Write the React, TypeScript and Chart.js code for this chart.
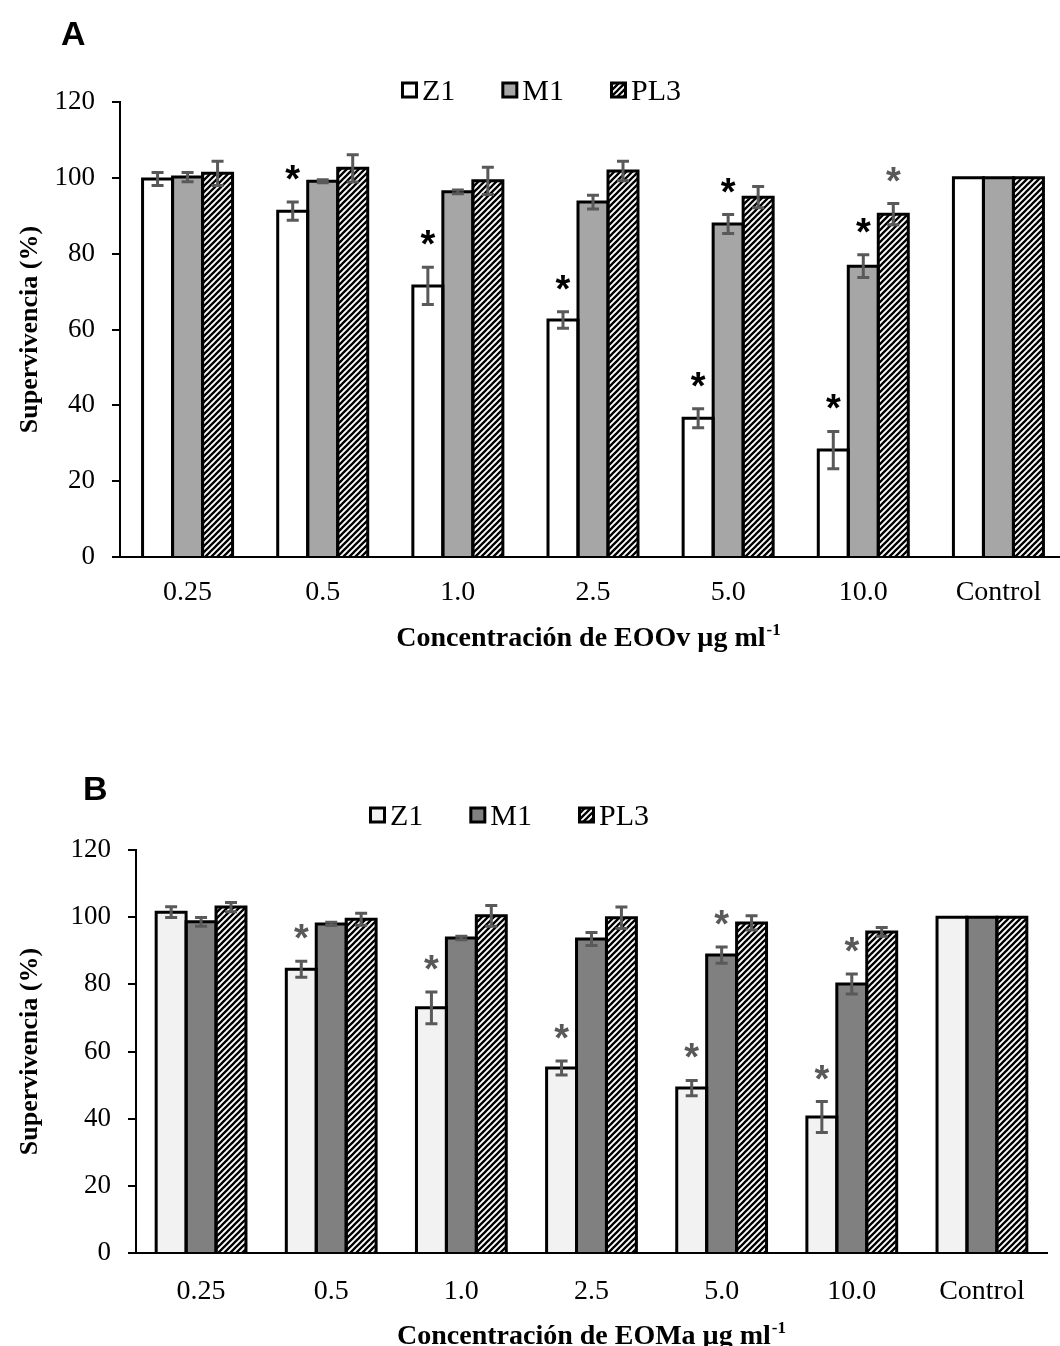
import { useEffect, useRef } from 'react';
import { Chart, registerables } from 'chart.js';
Chart.register(...registerables);

const categories = ['0.25', '0.5', '1.0', '2.5', '5.0', '10.0', 'Control'];
const seriesNames = ['Z1', 'M1', 'PL3'];
const yMin = 0;
const yMax = 120;
const yStep = 20;

// Panel A (EOOv)
const aZ1 = [99.7, 91.2, 71.5, 62.5, 36.6, 28.2, 100];
const aM1 = [100.2, 99.1, 96.3, 93.6, 87.8, 76.7, 100];
const aPL3 = [101.2, 102.5, 99.2, 101.8, 94.9, 90.4, 100];
const aZ1Err = [1.7, 2.4, 4.9, 2.2, 2.5, 4.9, 0];
const aM1Err = [1.2, 0.4, 0.5, 1.8, 2.5, 3.0, 0];
const aPL3Err = [3.2, 3.6, 3.6, 2.6, 2.8, 2.8, 0];
const aZ1Sig = [false, true, true, true, true, true, false];
const aM1Sig = [false, false, false, false, true, true, false];
const aPL3Sig = [false, false, false, false, false, true, false];

// Panel B (EOMa)
const bZ1 = [101.5, 84.5, 73.0, 55.1, 49.1, 40.5, 100];
const bM1 = [98.6, 98.0, 93.8, 93.5, 88.7, 80.1, 100];
const bPL3 = [103.0, 99.4, 100.4, 99.8, 98.3, 95.6, 100];
const bZ1Err = [1.6, 2.4, 4.7, 2.1, 2.3, 4.6, 0];
const bM1Err = [1.3, 0.5, 0.5, 1.9, 2.4, 3.0, 0];
const bPL3Err = [1.4, 1.8, 3.1, 3.2, 2.1, 1.3, 0];
const bZ1Sig = [false, true, true, true, true, true, false];
const bM1Sig = [false, false, false, false, true, true, false];
const bPL3Sig = [false, false, false, false, false, false, false];

const SERIF = '"Liberation Serif", "Times New Roman", serif';
const SANS = '"Liberation Sans", Arial, sans-serif';

function makeHatch(ctxRef: CanvasRenderingContext2D): CanvasPattern | string {
  const c = document.createElement('canvas');
  c.width = 6;
  c.height = 6;
  const g = c.getContext('2d');
  if (!g) return '#000';
  g.fillStyle = '#fff';
  g.fillRect(0, 0, 6, 6);
  g.strokeStyle = '#000';
  g.lineWidth = 2.3;
  g.beginPath();
  g.moveTo(-3, 3); g.lineTo(3, -3);
  g.moveTo(0, 6); g.lineTo(6, 0);
  g.moveTo(3, 9); g.lineTo(9, 3);
  g.stroke();
  return ctxRef.createPattern(c, 'repeat') || '#000';
}

interface PanelCfg {
  letter: string;
  xTitle: string;
  values: number[][];
  errors: number[][];
  sig: boolean[][];
  fills: string[];
  sigColors: string[];
  width: number;
  height: number;
  top: number;
  yAxisWidth: number;
  padTop: number;
  padRight: number;
  xAxisHeight: number;
  catPct: number;
  letterX: number;
  letterY: number;
  legendCx: number;
  legendY: number;
  xTitleCx: number;
  xTitleY: number;
  yTitleX: number;
  xTickPad: number;
}

const panelA: PanelCfg = {
  letter: 'A',
  xTitle: 'Concentración de EOOv µg ml',
  values: [aZ1, aM1, aPL3],
  errors: [aZ1Err, aM1Err, aPL3Err],
  sig: [aZ1Sig, aM1Sig, aPL3Sig],
  fills: ['#ffffff', '#a6a6a6', 'hatch'],
  sigColors: ['#000000', '#000000', '#595959'],
  width: 1070,
  height: 673,
  top: 0,
  yAxisWidth: 120,
  padTop: 102,
  padRight: 4,
  xAxisHeight: 116,
  catPct: 0.666,
  letterX: 61,
  letterY: 45,
  legendCx: 541,
  legendY: 90,
  xTitleCx: 588,
  xTitleY: 646,
  yTitleX: 30,
  xTickPad: 19,
};

const panelB: PanelCfg = {
  letter: 'B',
  xTitle: 'Concentración de EOMa µg ml',
  values: [bZ1, bM1, bPL3],
  errors: [bZ1Err, bM1Err, bPL3Err],
  sig: [bZ1Sig, bM1Sig, bPL3Sig],
  fills: ['#f2f2f2', '#808080', 'hatch'],
  sigColors: ['#595959', '#595959', '#595959'],
  width: 1060,
  height: 673,
  top: 673,
  yAxisWidth: 136,
  padTop: 177,
  padRight: 13,
  xAxisHeight: 93,
  catPct: 0.69,
  letterX: 83,
  letterY: 127,
  legendCx: 509,
  legendY: 815 - 673,
  xTitleCx: 591,
  xTitleY: 671,
  yTitleX: 30,
  xTickPad: 22,
};

function Panel({ p }: { p: PanelCfg }) {
  const ref = useRef<HTMLCanvasElement>(null);
  useEffect(() => {
    const canvas = ref.current;
    if (!canvas) return;
    const ctx0 = canvas.getContext('2d');
    if (!ctx0) return;
    const hatch = makeHatch(ctx0);
    const fills: any[] = p.fills.map((f) => (f === 'hatch' ? hatch : f));

    const deco = {
      id: 'deco',
      afterDatasetsDraw(chart: any) {
        const ctx: CanvasRenderingContext2D = chart.ctx;
        const ys = chart.scales.y;
        ctx.save();
        // bar outlines (centered strokes)
        chart.data.datasets.forEach((_ds: any, di: number) => {
          const meta = chart.getDatasetMeta(di);
          meta.data.forEach((el: any) => {
            const l = el.x - el.width / 2;
            const r = el.x + el.width / 2;
            ctx.beginPath();
            ctx.moveTo(l, el.base);
            ctx.lineTo(l, el.y);
            ctx.lineTo(r, el.y);
            ctx.lineTo(r, el.base);
            ctx.lineWidth = 3;
            ctx.lineJoin = 'miter';
            ctx.strokeStyle = '#000';
            ctx.stroke();
          });
        });
        // error bars
        chart.data.datasets.forEach((_ds: any, di: number) => {
          const meta = chart.getDatasetMeta(di);
          meta.data.forEach((el: any, i: number) => {
            const e = p.errors[di][i];
            if (!e) return;
            const v = p.values[di][i];
            const yT = ys.getPixelForValue(v + e);
            const yB = ys.getPixelForValue(v - e);
            ctx.strokeStyle = '#595959';
            ctx.lineWidth = 3;
            ctx.lineCap = 'butt';
            ctx.beginPath();
            ctx.moveTo(el.x, yT);
            ctx.lineTo(el.x, yB);
            ctx.moveTo(el.x - 6, yT);
            ctx.lineTo(el.x + 6, yT);
            ctx.moveTo(el.x - 6, yB);
            ctx.lineTo(el.x + 6, yB);
            ctx.stroke();
          });
        });
        // significance asterisks
        ctx.font = 'bold 38px ' + SANS;
        ctx.textAlign = 'center';
        ctx.textBaseline = 'alphabetic';
        chart.data.datasets.forEach((_ds: any, di: number) => {
          const meta = chart.getDatasetMeta(di);
          meta.data.forEach((el: any, i: number) => {
            if (!p.sig[di][i]) return;
            const v = p.values[di][i] + p.errors[di][i];
            const yT = ys.getPixelForValue(v);
            ctx.fillStyle = p.sigColors[di];
            ctx.fillText('*', el.x, yT - 10);
          });
        });
        ctx.restore();
      },
      afterDraw(chart: any) {
        const ctx: CanvasRenderingContext2D = chart.ctx;
        const area = chart.chartArea;
        ctx.save();
        // panel letter
        ctx.fillStyle = '#000';
        ctx.font = 'bold 34px ' + SANS;
        ctx.textAlign = 'left';
        ctx.textBaseline = 'alphabetic';
        ctx.fillText(p.letter, p.letterX, p.letterY);

        // legend
        ctx.font = '30px ' + SERIF;
        const box = 14;
        const gap = 4;
        const spacing = 46;
        const widths = seriesNames.map((n) => box + 3 + gap + ctx.measureText(n).width);
        const total = widths.reduce((a, b) => a + b, 0) + spacing * (seriesNames.length - 1);
        let x = p.legendCx - total / 2;
        seriesNames.forEach((n, i) => {
          const bx = x + 1.5;
          const by = p.legendY - box / 2;
          ctx.fillStyle = fills[i];
          ctx.fillRect(bx, by, box, box);
          ctx.strokeStyle = '#000';
          ctx.lineWidth = 3;
          ctx.strokeRect(bx, by, box, box);
          ctx.fillStyle = '#000';
          ctx.textAlign = 'left';
          ctx.fillText(n, x + box + 3 + gap, p.legendY + 10);
          x += widths[i] + spacing;
        });

        // y-axis title
        ctx.save();
        ctx.translate(p.yTitleX, (area.top + area.bottom) / 2);
        ctx.rotate(-Math.PI / 2);
        ctx.font = 'bold 26px ' + SERIF;
        ctx.textAlign = 'center';
        ctx.textBaseline = 'middle';
        ctx.fillStyle = '#000';
        ctx.fillText('Supervivencia (%)', 0, 0);
        ctx.restore();

        // x-axis title with superscript
        ctx.font = 'bold 28px ' + SERIF;
        const mainW = ctx.measureText(p.xTitle).width;
        ctx.font = 'bold 17px ' + SERIF;
        const supW = ctx.measureText('-1').width;
        const sx = p.xTitleCx - (mainW + supW) / 2;
        ctx.textAlign = 'left';
        ctx.textBaseline = 'alphabetic';
        ctx.fillStyle = '#000';
        ctx.font = 'bold 28px ' + SERIF;
        ctx.fillText(p.xTitle, sx, p.xTitleY);
        ctx.font = 'bold 17px ' + SERIF;
        ctx.fillText('-1', sx + mainW + 1, p.xTitleY - 11);
        ctx.restore();
      },
    };

    const chart = new Chart(canvas, {
      type: 'bar',
      data: {
        labels: categories,
        datasets: seriesNames.map((n, i) => ({
          label: n,
          data: p.values[i],
          backgroundColor: fills[i],
          borderWidth: 0,
          barPercentage: 1,
          categoryPercentage: p.catPct,
        })),
      },
      options: {
        animation: false,
        responsive: false,
        devicePixelRatio: 1,
        layout: { padding: { top: p.padTop, right: p.padRight, left: 0, bottom: 0 } },
        plugins: {
          legend: { display: false },
          title: { display: false },
          tooltip: { enabled: false },
        },
        scales: {
          x: {
            afterFit: (s: any) => { s.height = p.xAxisHeight; },
            grid: { display: false, drawTicks: false },
            border: { display: true, color: '#000', width: 2 },
            ticks: {
              color: '#000',
              font: { family: SERIF, size: 28 },
              padding: p.xTickPad,
              maxRotation: 0,
              autoSkip: false,
            },
          },
          y: {
            min: yMin,
            max: yMax,
            afterFit: (s: any) => { s.width = p.yAxisWidth; },
            grid: { drawOnChartArea: false, drawTicks: true, tickLength: 8, color: '#000', lineWidth: 2 },
            border: { display: true, color: '#000', width: 2 },
            ticks: {
              stepSize: yStep,
              color: '#000',
              font: { family: SERIF, size: 27 },
              padding: 17,
            },
          },
        },
      },
      plugins: [deco],
    } as any);
    return () => chart.destroy();
  }, [p]);
  return (
    <canvas
      ref={ref}
      width={p.width}
      height={p.height}
      style={{ position: 'absolute', left: 0, top: p.top, width: p.width, height: p.height }}
    />
  );
}

export default function App() {
  useEffect(() => {
    document.body.style.margin = '0';
  }, []);
  return (
    <div style={{ position: 'relative', width: 1060, height: 1346, overflow: 'hidden', background: '#fff' }}>
      <Panel p={panelA} />
      <Panel p={panelB} />
    </div>
  );
}
